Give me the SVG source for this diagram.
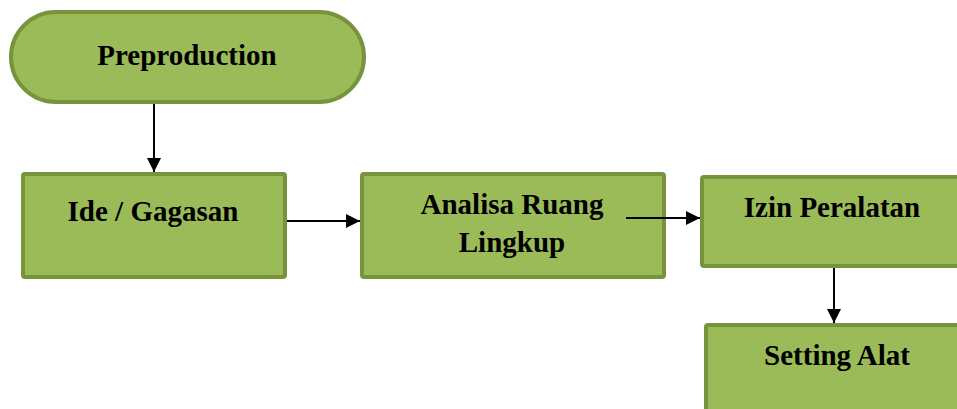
<svg xmlns="http://www.w3.org/2000/svg" width="957" height="409" viewBox="0 0 957 409">
<style>
.node{fill:#9bbb59;stroke:#77933c;stroke-width:4}
.lbl{font-family:"Liberation Serif","Times New Roman",serif;font-weight:bold;font-size:29px;fill:#000;text-anchor:middle}
.conn{stroke:#000;stroke-width:2;fill:none;marker-end:url(#arr)}
</style>
<defs>
<marker id="arr" viewBox="0 0 10 10" refX="10" refY="5" markerUnits="userSpaceOnUse" markerWidth="14" markerHeight="14" orient="auto">
<path d="M0,0 L10,5 L0,10 Z" fill="#000"/>
</marker>
</defs>
<rect width="957" height="409" fill="#fff"/>
<g id="preproduction">
<rect class="node" x="11" y="12" width="353" height="90" rx="45" ry="45"/>
<text class="lbl" x="187" y="65">Preproduction</text>
</g>
<g id="ide">
<rect class="node" x="23" y="174" width="262" height="103" rx="2"/>
<text class="lbl" x="153" y="221">Ide / Gagasan</text>
</g>
<g id="analisa">
<rect class="node" x="362" y="174" width="302" height="103" rx="2"/>
<text class="lbl" x="512" y="214">Analisa Ruang</text>
<text class="lbl" x="512" y="252">Lingkup</text>
</g>
<g id="izin">
<rect class="node" x="702" y="177" width="270" height="89" rx="2"/>
<text class="lbl" x="832" y="217">Izin Peralatan</text>
</g>
<g id="setting">
<rect class="node" x="706" y="325" width="270" height="110" rx="2"/>
<text class="lbl" x="837" y="365">Setting Alat</text>
</g>
<g id="connectors">
<line class="conn" x1="154" y1="104" x2="154" y2="172"/>
<line class="conn" x1="287" y1="221" x2="360" y2="221"/>
<line class="conn" x1="626" y1="218" x2="700" y2="218"/>
<line class="conn" x1="834" y1="268" x2="834" y2="323"/>
</g>
</svg>
